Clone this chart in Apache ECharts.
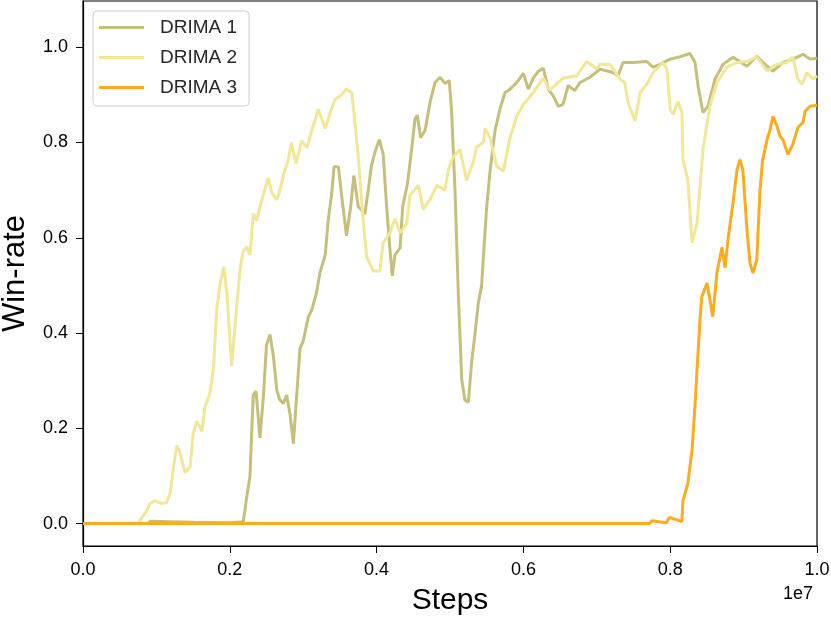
<!DOCTYPE html>
<html>
<head>
<meta charset="utf-8">
<script src="https://cdn.jsdelivr.net/npm/echarts@6/dist/echarts.min.js"></script>
<style>
  html, body { margin: 0; padding: 0; background: #fff; }
  #main { width: 831px; height: 621px; }
</style>
</head>
<body>
<div id="main"></div>
<script>
// 数据：x 以 1e7 步为单位
const seriesNames = ['DRIMA 1', 'DRIMA 2', 'DRIMA 3'];
const xTicks = [0, 0.2, 0.4, 0.6, 0.8, 1.0];
const yTicks = [0, 0.2, 0.4, 0.6, 0.8, 1.0];

const drima1 = [
  [0, 0], [0.088, 0], [0.092, 0.005], [0.15, 0.003], [0.2, 0.002], [0.2184, 0.004],
  [0.223, 0.055], [0.2275, 0.1], [0.2298, 0.19], [0.232, 0.27], [0.2357, 0.278],
  [0.241, 0.18], [0.2457, 0.266], [0.25, 0.375], [0.2548, 0.397], [0.2593, 0.353],
  [0.264, 0.28], [0.268, 0.26], [0.273, 0.252], [0.2775, 0.27], [0.282, 0.23],
  [0.2866, 0.168], [0.291, 0.266], [0.2956, 0.368], [0.3, 0.383], [0.307, 0.434],
  [0.3116, 0.448], [0.318, 0.484], [0.323, 0.528], [0.33, 0.564], [0.334, 0.636],
  [0.339, 0.695], [0.342, 0.749], [0.348, 0.749], [0.3525, 0.687], [0.359, 0.604],
  [0.3647, 0.665], [0.369, 0.731], [0.375, 0.665], [0.3796, 0.658], [0.384, 0.65],
  [0.3887, 0.701], [0.393, 0.752], [0.398, 0.781], [0.4037, 0.806], [0.409, 0.775],
  [0.4137, 0.665], [0.418, 0.579], [0.4214, 0.52], [0.425, 0.564], [0.432, 0.579],
  [0.4355, 0.665], [0.442, 0.713], [0.448, 0.789], [0.4523, 0.85], [0.4555, 0.857],
  [0.46, 0.81], [0.466, 0.825], [0.4728, 0.884], [0.4796, 0.926], [0.4864, 0.937],
  [0.4932, 0.924], [0.499, 0.93], [0.502, 0.87], [0.5068, 0.701], [0.5113, 0.484],
  [0.516, 0.303], [0.5204, 0.259], [0.525, 0.255], [0.5295, 0.339], [0.534, 0.398],
  [0.5386, 0.463], [0.543, 0.499], [0.5463, 0.579], [0.55, 0.665], [0.5545, 0.739],
  [0.5613, 0.825], [0.568, 0.87], [0.575, 0.905], [0.5817, 0.912], [0.591, 0.926],
  [0.6, 0.945], [0.6067, 0.912], [0.6135, 0.935], [0.62, 0.949], [0.627, 0.956],
  [0.634, 0.912], [0.641, 0.897], [0.6476, 0.876], [0.654, 0.88], [0.661, 0.92],
  [0.67, 0.909], [0.677, 0.926], [0.6907, 0.937], [0.7044, 0.954], [0.722, 0.947],
  [0.729, 0.94], [0.7357, 0.968], [0.749, 0.968], [0.768, 0.97], [0.7766, 0.958],
  [0.786, 0.964], [0.8, 0.975], [0.8134, 0.98], [0.827, 0.987], [0.8338, 0.968],
  [0.838, 0.918], [0.8447, 0.863], [0.8515, 0.876], [0.861, 0.933], [0.872, 0.964],
  [0.8856, 0.979], [0.9046, 0.96], [0.918, 0.981], [0.932, 0.96], [0.94, 0.95],
  [0.9537, 0.968], [0.967, 0.975], [0.981, 0.985], [0.9905, 0.975], [1.0, 0.977]
];

const drima2 = [
  [0, 0], [0.0754, 0], [0.08, 0.012], [0.0867, 0.027], [0.0913, 0.042], [0.098, 0.048],
  [0.107, 0.042], [0.114, 0.044], [0.1185, 0.063], [0.123, 0.114], [0.1277, 0.164],
  [0.132, 0.15], [0.139, 0.107], [0.146, 0.12], [0.15, 0.187], [0.155, 0.215],
  [0.162, 0.194], [0.166, 0.244], [0.173, 0.274], [0.178, 0.33], [0.182, 0.448],
  [0.187, 0.505], [0.192, 0.539], [0.196, 0.484], [0.2025, 0.331], [0.209, 0.448],
  [0.214, 0.535], [0.218, 0.571], [0.223, 0.581], [0.2275, 0.564], [0.232, 0.651],
  [0.2366, 0.636], [0.241, 0.665], [0.2457, 0.69], [0.2525, 0.726], [0.257, 0.695],
  [0.264, 0.68], [0.268, 0.698], [0.273, 0.731], [0.2797, 0.764], [0.284, 0.8],
  [0.29, 0.756], [0.298, 0.804], [0.305, 0.789], [0.3116, 0.825], [0.3206, 0.87],
  [0.33, 0.829], [0.3365, 0.861], [0.343, 0.89], [0.35, 0.897], [0.359, 0.912],
  [0.366, 0.905], [0.368, 0.88], [0.375, 0.77], [0.382, 0.63], [0.3865, 0.56],
  [0.3955, 0.53], [0.4046, 0.53], [0.409, 0.59], [0.418, 0.61], [0.425, 0.64],
  [0.432, 0.61], [0.441, 0.63], [0.4455, 0.69], [0.457, 0.71], [0.4636, 0.66],
  [0.4728, 0.68], [0.482, 0.71], [0.493, 0.7], [0.498, 0.745], [0.5045, 0.77],
  [0.5136, 0.785], [0.5227, 0.72], [0.532, 0.76], [0.536, 0.79], [0.5454, 0.8],
  [0.5477, 0.83], [0.5545, 0.81], [0.5636, 0.75], [0.5727, 0.74], [0.5817, 0.81],
  [0.591, 0.855], [0.6, 0.88], [0.6135, 0.905], [0.627, 0.935], [0.636, 0.91],
  [0.654, 0.935], [0.6726, 0.94], [0.686, 0.97], [0.7, 0.955], [0.7044, 0.964],
  [0.718, 0.964], [0.7316, 0.933], [0.738, 0.926], [0.7425, 0.884], [0.752, 0.845],
  [0.759, 0.905], [0.768, 0.922], [0.7766, 0.947], [0.79, 0.968], [0.7956, 0.954],
  [0.8, 0.87], [0.804, 0.859], [0.8106, 0.886], [0.816, 0.863], [0.8174, 0.764],
  [0.824, 0.722], [0.8297, 0.59], [0.8365, 0.63], [0.8447, 0.785], [0.854, 0.876],
  [0.8637, 0.926], [0.877, 0.958], [0.891, 0.968], [0.9046, 0.97], [0.918, 0.979],
  [0.932, 0.95], [0.9455, 0.964], [0.959, 0.968], [0.967, 0.979], [0.974, 0.933],
  [0.9796, 0.922], [0.9864, 0.947], [0.9946, 0.933], [1.0, 0.94]
];

const drima3 = [
  [0, 0], [0.772, 0], [0.775, 0.006], [0.7948, 0.002], [0.7993, 0.013], [0.8158, 0.004],
  [0.8174, 0.048], [0.824, 0.084], [0.8297, 0.154], [0.834, 0.252], [0.8365, 0.322],
  [0.8406, 0.427], [0.843, 0.476], [0.8502, 0.505], [0.858, 0.434], [0.8637, 0.527],
  [0.8706, 0.58], [0.8747, 0.537], [0.8787, 0.596], [0.8856, 0.674], [0.891, 0.743],
  [0.895, 0.764], [0.899, 0.743], [0.9046, 0.617], [0.9087, 0.547], [0.9128, 0.526],
  [0.918, 0.554], [0.9223, 0.7], [0.926, 0.764], [0.932, 0.806], [0.936, 0.827],
  [0.94, 0.855], [0.9455, 0.834], [0.9496, 0.813], [0.9537, 0.806], [0.9605, 0.775],
  [0.967, 0.796], [0.974, 0.832], [0.981, 0.842], [0.9837, 0.865], [0.9905, 0.876],
  [1.0, 0.878]
];

const colors = ['#c6bf7c', '#f1e797', '#ffab1f'];
const font = 'Liberation Sans, Arial, sans-serif';

const chart = echarts.init(document.getElementById('main'));
const option = {
  animation: false,
  color: colors,
  grid: {
    left: 83, right: 14, top: 1, bottom: 75,
    containLabel: false, outerBoundsMode: 'none',
    show: true, borderColor: '#000', borderWidth: 1.2
  },
  legend: {
    orient: 'vertical',
    left: 93,
    top: 11,
    data: seriesNames,
    icon: 'rect',
    itemWidth: 45,
    itemHeight: 3,
    itemGap: 11,
    padding: [7, 12, 9, 6],
    borderColor: '#cccccc',
    borderWidth: 1,
    borderRadius: 4,
    textStyle: { fontFamily: font, fontSize: 19, color: '#262626', padding: [0, 0, 0, 11] }
  },
  xAxis: {
    type: 'value',
    min: 0,
    max: 1,
    interval: 0.2,
    name: 'Steps',
    nameLocation: 'middle',
    nameGap: 40,
    nameTextStyle: { fontFamily: font, fontSize: 30, color: '#000' },
    axisLine: { show: true, onZero: false, lineStyle: { color: '#000', width: 1.2 } },
    axisTick: { show: true, inside: false, length: 7, customValues: xTicks, lineStyle: { color: '#000' } },
    axisLabel: { fontFamily: font, fontSize: 18, color: '#000', margin: 15, customValues: xTicks, formatter: v => v.toFixed(1) },
    splitLine: { show: false }
  },
  yAxis: {
    type: 'value',
    min: -0.047,
    max: 1.097,
    name: 'Win-rate',
    nameLocation: 'middle',
    nameGap: 52,
    nameRotate: 90,
    nameTextStyle: { fontFamily: font, fontSize: 31, color: '#000' },
    axisLine: { show: true, onZero: false, lineStyle: { color: '#000', width: 1.2 } },
    axisTick: { show: true, inside: false, length: 7, customValues: yTicks, lineStyle: { color: '#000' } },
    axisLabel: { fontFamily: font, fontSize: 18, color: '#000', margin: 15, customValues: yTicks, formatter: v => v.toFixed(1) },
    splitLine: { show: false }
  },
  graphic: [
    { type: 'text', right: 18, top: 585, style: { text: '1e7', fontFamily: font, fontSize: 18, fill: '#000' } }
  ],
  series: [drima1, drima2, drima3].map((d, i) => ({
    name: seriesNames[i],
    type: 'line',
    data: d,
    showSymbol: false,
    lineStyle: { width: 3, color: colors[i] },
    itemStyle: { color: colors[i] },
    z: 2 + i
  }))
};
chart.setOption(option);
</script>
</body>
</html>
